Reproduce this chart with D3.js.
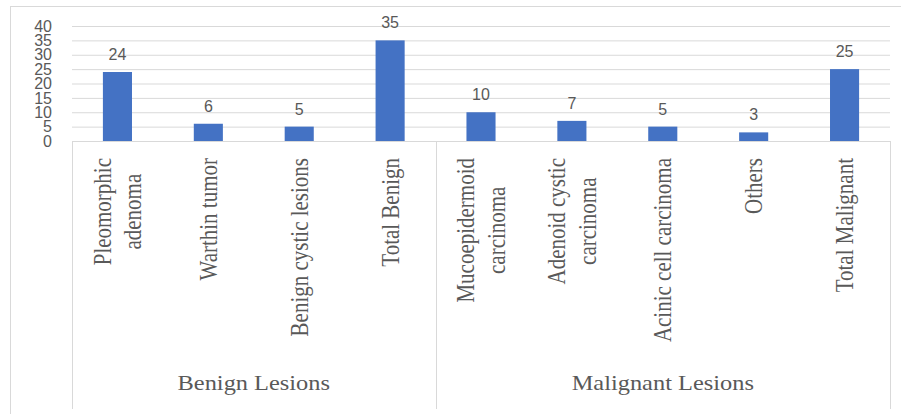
<!DOCTYPE html>
<html>
<head>
<meta charset="utf-8">
<script src="https://cdn.jsdelivr.net/npm/d3@7"></script>
<style>
  body { margin: 0; background: #fff; }
  svg { display: block; }
</style>
</head>
<body>
<div id="chart"></div>
<script>

// chart data
var categories = ["Pleomorphic adenoma", "Warthin tumor", "Benign cystic lesions", "Total Benign",
                  "Mucoepidermoid carcinoma", "Adenoid cystic carcinoma", "Acinic cell carcinoma",
                  "Others", "Total Malignant"]
var labelLines = [["Pleomorphic", "adenoma"], ["Warthin tumor"], ["Benign cystic lesions"], ["Total Benign"],
                  ["Mucoepidermoid", "carcinoma"], ["Adenoid cystic", "carcinoma"], ["Acinic cell carcinoma"],
                  ["Others"], ["Total Malignant"]]
var values = [24, 6, 5, 35, 10, 7, 5, 3, 25]
var groups = ["Benign Lesions", "Malignant Lesions"]
var groupMembers = [4, 5]
var yTicks = [0, 5, 10, 15, 20, 25, 30, 35, 40]

// size of the page and plot
var W = 901, H = 414
var plot = {left: 72, right: 890, top: 26, bottom: 141}
var boxBottom = 409
var grey = "#595959", lineGrey = "#d9d9d9"

var svg = d3.select("#chart").append("svg")
    .attr("width", W)
    .attr("height", H)

// outer chart border
svg.append("rect")
    .attr("x", 10.5).attr("y", 6.5)
    .attr("width", W).attr("height", H)
    .attr("fill", "none")
    .attr("stroke", lineGrey)

// scales
var x = d3.scaleBand()
    .domain(categories)
    .range([plot.left, plot.right])
    .padding(0)
var y = d3.scaleLinear()
    .domain([0, 40])
    .range([plot.bottom, plot.top])

// y axis with gridlines
var yAxis = svg.append("g")
    .attr("transform", "translate(" + plot.left + ",0)")
    .call(d3.axisLeft(y)
        .tickValues(yTicks)
        .tickSize(-(plot.right - plot.left))
        .tickPadding(20))
yAxis.select(".domain").remove()
yAxis.selectAll(".tick line")
    .attr("stroke", lineGrey)
yAxis.selectAll(".tick text")
    .attr("fill", grey)
    .style("font-family", "'Liberation Sans', Arial, sans-serif")
    .style("font-size", "16px")

// bars
var barW = x.bandwidth() * 0.32
svg.selectAll(".bar")
    .data(values)
    .enter().append("rect")
    .attr("class", "bar")
    .attr("x", function(d, i) { return x(categories[i]) + x.bandwidth() / 2 - barW / 2 })
    .attr("y", function(d) { return y(d) })
    .attr("width", barW)
    .attr("height", function(d) { return y(0) - y(d) })
    .attr("fill", "#4472c4")

// value labels
svg.selectAll(".val")
    .data(values)
    .enter().append("text")
    .attr("class", "val")
    .attr("x", function(d, i) { return x(categories[i]) + x.bandwidth() / 2 })
    .attr("y", function(d) { return y(d) - 12 })
    .attr("text-anchor", "middle")
    .attr("fill", grey)
    .style("font-family", "'Liberation Sans', Arial, sans-serif")
    .style("font-size", "16px")
    .text(function(d) { return d })

// category box lines
var box = svg.append("g").attr("stroke", lineGrey).attr("fill", "none")
box.append("line")
    .attr("x1", plot.left).attr("x2", plot.right)
    .attr("y1", plot.bottom + 0.5).attr("y2", plot.bottom + 0.5)
var start = 0
var bounds = [plot.left]
groupMembers.forEach(function(n) {
    start += n
    bounds.push(start < categories.length ? x(categories[start]) : plot.right)
})
bounds.forEach(function(b) {
    box.append("line")
        .attr("x1", Math.round(b) + 0.5).attr("x2", Math.round(b) + 0.5)
        .attr("y1", plot.bottom).attr("y2", boxBottom)
})

// rotated category labels
var labelTop = 158, lineH = 26
labelLines.forEach(function(lines, i) {
    var cx = x(categories[i]) + x.bandwidth() / 2
    var g = svg.append("g")
        .attr("transform", "translate(" + cx + "," + labelTop + ") scale(1.18,1) rotate(-90)")
    var texts = lines.map(function(line, j) {
        return g.append("text")
            .attr("text-anchor", "middle")
            .attr("fill", grey)
            .style("font-family", "'Liberation Serif', 'Times New Roman', serif")
            .style("font-size", "21px")
            .attr("y", (j - (lines.length - 1) / 2) * lineH)
            .attr("dy", "0.35em")
            .text(line)
    })
    var maxLen = d3.max(texts, function(t) { return t.node().getComputedTextLength() })
    texts.forEach(function(t) { t.attr("x", -maxLen / 2) })
})

// group labels
groups.forEach(function(name, i) {
    var cx = (bounds[i] + bounds[i + 1]) / 2
    svg.append("g")
        .attr("transform", "translate(" + cx + ",390) scale(1.22,1)")
      .append("text")
        .attr("text-anchor", "middle")
        .attr("fill", grey)
        .style("font-family", "'Liberation Serif', 'Times New Roman', serif")
        .style("font-size", "20px")
        .text(name)
})

</script>
</body>
</html>
